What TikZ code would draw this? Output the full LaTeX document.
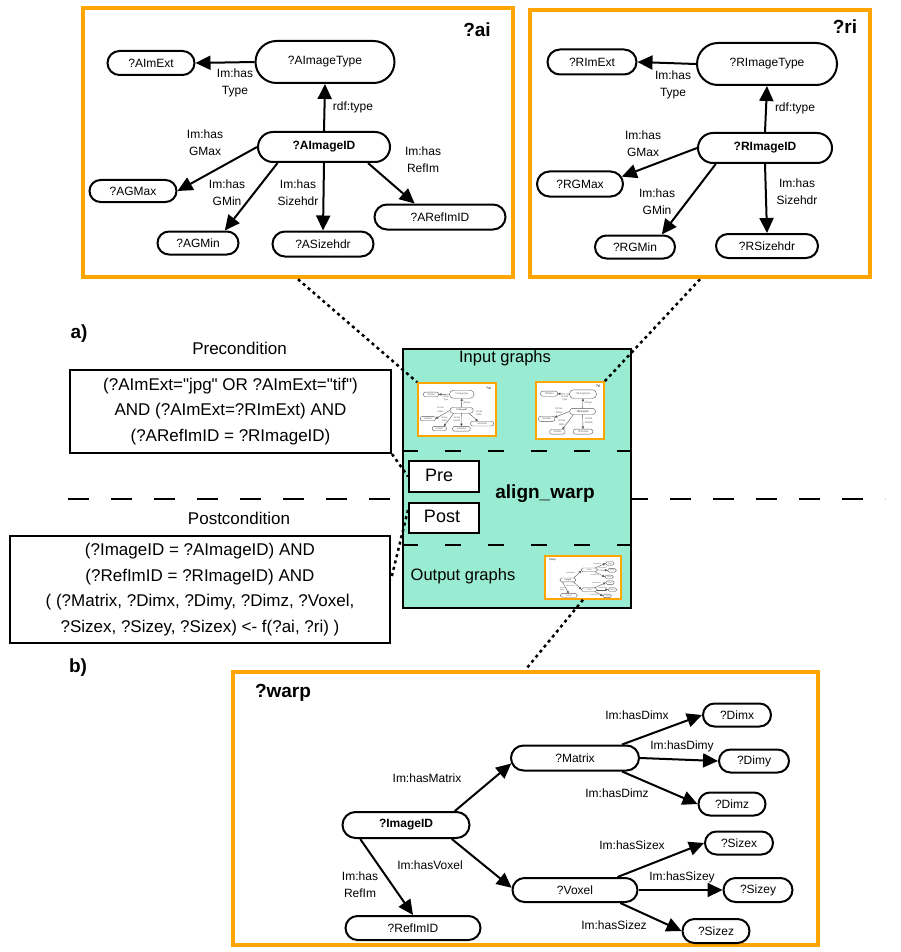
\documentclass[tikz,border=0pt]{standalone}
\usepackage{fontspec}
\setmainfont{Liberation Sans}
\usetikzlibrary{shapes.misc,arrows.meta}

\definecolor{frameorange}{RGB}{255,165,0}
\definecolor{opfill}{RGB}{153,235,209}

% stroke width and colour of the graph drawings
\newcommand{\gw}{2pt}
\newcommand{\gcol}{black}

\tikzset{
  gnode/.style={rounded rectangle, draw=\gcol, line width=\gw, inner sep=0pt,
    text=\gcol, font=\fontsize{12}{14}\selectfont},
  idnode/.style={gnode, font=\fontsize{12}{14}\selectfont\bfseries},
  glabel/.style={align=center, inner sep=0pt, text=\gcol,
    font=\fontsize{12}{17}\selectfont},
  garrow/.style={draw=black, line width=2pt,
    -{Triangle[length=15pt,width=14pt]}},
  gtitle/.style={inner sep=0pt, text=\gcol, font=\fontsize{19}{22}\selectfont\bfseries},
  bigframe/.style={draw=frameorange, line width=4.5pt, inner sep=0pt},
  thumbframe/.style={draw=frameorange, line width=1.6pt, fill=white, inner sep=0pt},
  condbox/.style={draw, line width=2pt, align=center, inner sep=0pt,
    font=\fontsize{17}{25.5}\selectfont},
  captxt/.style={inner sep=0pt, font=\fontsize{17}{20}\selectfont},
  boldtxt/.style={inner sep=0pt, font=\fontsize{19}{22}\selectfont\bfseries},
  smallbox/.style={draw, line width=2pt, fill=white, inner sep=0pt},
  dotlink/.style={line width=2.5pt, dash pattern=on 3pt off 3.5pt},
  sepline/.style={line width=2.5pt, dash pattern=on 21pt off 22pt},
  divline/.style={line width=2.5pt, dash pattern=on 16pt off 27pt},
}

% graph of the input image ?ai
\newcommand{\aigraph}{%
  \node[gnode, minimum width=139, minimum height=42] (it) at (325,62) {?AImageType};
  \node[gnode, minimum width=87, minimum height=24] (ext) at (151,63) {?AImExt};
  \node[idnode, minimum width=132, minimum height=30] (id) at (324,147) {?AImageID};
  \node[gnode, minimum width=87, minimum height=22] (gmax) at (133,191) {?AGMax};
  \node[gnode, minimum width=81, minimum height=23] (gmin) at (198,243) {?AGMin};
  \node[gnode, minimum width=101, minimum height=25] (sz) at (323,244) {?ASizehdr};
  \node[gnode, minimum width=131, minimum height=25] (ref) at (440,217) {?ARefImID};
  \node[gtitle] (ttl) at (477,30) {?ai};
  \draw[garrow] (it.west) -- (ext.east);
  \draw[garrow] (id.north) -- (it.south);
  \draw[garrow] (id.west) -- (gmax.east);
  \draw[garrow] (id.199) -- (gmin.25);
  \draw[garrow] (id.south) -- (sz.north);
  \draw[garrow] (id.340) -- (ref.152);
  \node[glabel] (l1) at (235,83) {Im:has\\Type};
  \node[glabel] (l2) at (353,107) {rdf:type};
  \node[glabel] (l3) at (205,143) {Im:has\\GMax};
  \node[glabel] (l4) at (227,193) {Im:has\\GMin};
  \node[glabel] (l5) at (298,193) {Im:has\\Sizehdr};
  \node[glabel] (l6) at (423,160) {Im:has\\RefIm};
}

% graph of the reference image ?ri
\newcommand{\rigraph}{%
  \node[gnode, minimum width=140, minimum height=42] (it) at (767,64) {?RImageType};
  \node[gnode, minimum width=89, minimum height=25] (ext) at (592,62) {?RImExt};
  \node[idnode, minimum width=134, minimum height=30] (id) at (765,148) {?RImageID};
  \node[gnode, minimum width=86, minimum height=25] (gmax) at (580,184) {?RGMax};
  \node[gnode, minimum width=80, minimum height=23] (gmin) at (635,247) {?RGMin};
  \node[gnode, minimum width=102, minimum height=24] (sz) at (767,246) {?RSizehdr};
  \node[gtitle] (ttl) at (845,27) {?ri};
  \draw[garrow] (it.west) -- (ext.east);
  \draw[garrow] (id.north) -- (it.south);
  \draw[garrow] (id.west) -- (gmax.10);
  \draw[garrow] (id.198) -- (gmin.25);
  \draw[garrow] (id.south) -- (sz.north);
  \node[glabel] (l1) at (673,85) {Im:has\\Type};
  \node[glabel] (l2) at (795,108) {rdf:type};
  \node[glabel] (l3) at (643,144) {Im:has\\GMax};
  \node[glabel] (l4) at (657,202) {Im:has\\GMin};
  \node[glabel] (l5) at (797,192) {Im:has\\Sizehdr};
}

% graph of the output ?warp
\newcommand{\warpgraph}{%
  \node[idnode, minimum width=127, minimum height=26] (wid) at (406,825) {?ImageID};
  \node[gnode, minimum width=135, minimum height=24] (wref) at (413,928) {?RefImID};
  \node[gnode, minimum width=128, minimum height=25] (mat) at (575,758) {?Matrix};
  \node[gnode, minimum width=125, minimum height=24] (vox) at (575,890) {?Voxel};
  \node[gnode, minimum width=68, minimum height=23] (dimx) at (737,715) {?Dimx};
  \node[gnode, minimum width=70, minimum height=23] (dimy) at (754,761) {?Dimy};
  \node[gnode, minimum width=67, minimum height=23] (dimz) at (732,804) {?Dimz};
  \node[gnode, minimum width=68, minimum height=23] (sizex) at (739,843) {?Sizex};
  \node[gnode, minimum width=69, minimum height=24] (sizey) at (758,890) {?Sizey};
  \node[gnode, minimum width=67, minimum height=24] (sizez) at (716,931) {?Sizez};
  \node[gtitle] (ttl) at (283,693) {?warp};
  \draw[garrow] (wid.16) -- (mat.185);
  \draw[garrow] (wid.343) -- (vox.178);
  \draw[garrow] (wid.197) -- (wref.north);
  \draw[garrow] (mat.16) -- (dimx.west);
  \draw[garrow] (mat.east) -- (dimy.west);
  \draw[garrow] (mat.344) -- (dimz.west);
  \draw[garrow] (vox.17) -- (sizex.west);
  \draw[garrow] (vox.east) -- (sizey.west);
  \draw[garrow] (vox.344) -- (sizez.west);
  \node[glabel] (lm) at (427,778) {Im:hasMatrix};
  \node[glabel] (lv) at (430,865) {Im:hasVoxel};
  \node[glabel] (lr) at (360,885) {Im:has\\RefIm};
  \node[glabel] (ldx) at (637,715) {Im:hasDimx};
  \node[glabel] (ldy) at (682,746) {Im:hasDimy};
  \node[glabel] (ldz) at (617,793) {Im:hasDimz};
  \node[glabel] (lsx) at (632,845) {Im:hasSizex};
  \node[glabel] (lsy) at (682,877) {Im:hasSizey};
  \node[glabel] (lsz) at (614,925) {Im:hasSizez};
}

% thin, grey settings for the miniature copies
\newcommand{\thumbsettings}{%
  \renewcommand{\gw}{0.4pt}%
  \renewcommand{\gcol}{black!65}%
  \tikzset{garrow/.style={draw=black!65, line width=0.4pt,
    -{Triangle[length=2.6pt,width=2.4pt]}}}%
}

\newcommand{\qq}{\textquotedbl}

\begin{document}
\begin{tikzpicture}[x=1pt, y=-1pt]
  \useasboundingbox (0,0) rectangle (900,952);

  % separator between precondition and postcondition
  \coordinate (sepl) at (68,499);
  \coordinate (sepr) at (885,499);
  \draw[sepline] (sepl) -- (sepr);

  % the operation box
  \node[draw, fill=opfill, line width=2pt, inner sep=0pt,
        minimum width=228, minimum height=259] (op) at (517,478.5) {};
  \node[captxt, font=\fontsize{16.5}{20}\selectfont] (intxt) at (505,358) {Input graphs};
  \node[captxt, font=\fontsize{16.5}{20}\selectfont] (outtxt) at (463,576) {Output graphs};
  \node[boldtxt] (opname) at (545,494) {align\_warp};
  \coordinate (d1l) at ([yshift=-103pt]op.north west);
  \coordinate (d1r) at ([yshift=-103pt]op.north east);
  \coordinate (d2l) at ([yshift=64pt]op.south west);
  \coordinate (d2r) at ([yshift=64pt]op.south east);
  \draw[divline] (d1l) -- (d1r);
  \draw[divline] (d2l) -- (d2r);

  \node[smallbox, minimum width=70, minimum height=31] (prebox) at (444,476.5) {};
  \node[captxt, font=\fontsize{18}{20}\selectfont] (pretxt) at (439,475) {Pre};
  \node[smallbox, minimum width=70, minimum height=30] (postbox) at (444,518) {};
  \node[captxt, font=\fontsize{18}{20}\selectfont] (posttxt) at (442,516) {Post};

  % conditions
  \node[boldtxt] (la) at (79,334) {a)};
  \node[boldtxt] (lb) at (78,668) {b)};
  \node[captxt] (prehead) at (239.5,348) {Precondition};
  \node[condbox, minimum width=321, minimum height=83] (precond) at (230.5,411.5)
    {(?AImExt=\qq jpg\qq{} OR ?AImExt=\qq tif\qq)\\AND (?AImExt=?RImExt) AND\\(?ARefImID = ?RImageID)};
  \node[captxt] (posthead) at (239,518) {Postcondition};
  \node[condbox, minimum width=380, minimum height=107] (postcond) at (200,589.5)
    {(?ImageID = ?AImageID) AND\\(?RefImID = ?RImageID) AND\\( (?Matrix, ?Dimx, ?Dimy, ?Dimz, ?Voxel,\\?Sizex, ?Sizey, ?Sizex) <- f(?ai, ?ri) )};

  % miniature graphs inside the operation box
  \node[thumbframe, minimum width=78, minimum height=53] (aithumb) at (457,409.5) {};
  \node[thumbframe, minimum width=68, minimum height=57] (rithumb) at (570,410.5) {};
  \node[thumbframe, minimum width=76, minimum height=43] (outthumb) at (583,577.5) {};
  \begin{scope}[shift={(419,384)}, xscale=0.1767, yscale=0.1896, shift={(-83,-8)},
                transform shape, name prefix=ta-]
    \thumbsettings\aigraph
  \end{scope}
  \begin{scope}[shift={(537,383)}, xscale=0.194, yscale=0.206, shift={(-530,-10)},
                transform shape, name prefix=tr-]
    \thumbsettings\rigraph
  \end{scope}
  \begin{scope}[shift={(546,557)}, xscale=0.1265, yscale=0.150, shift={(-233,-672)},
                transform shape, name prefix=tw-]
    \thumbsettings\warpgraph
  \end{scope}

  % full-size graphs
  \node[bigframe, minimum width=430, minimum height=269] (aibox) at (298,142.5) {};
  \node[bigframe, minimum width=340, minimum height=267] (ribox) at (700,143.5) {};
  \node[bigframe, minimum width=585, minimum height=273] (warpbox) at (525.5,808.5) {};
  \aigraph
  \begin{scope}[name prefix=r-]
    \rigraph
  \end{scope}
  \warpgraph

  % dotted links between the parts
  \draw[dotlink] (aibox.south) -- (aithumb.north west);
  \draw[dotlink] (ribox.south) -- (rithumb.north east);
  \draw[dotlink] (precond.south east) -- (prebox.west);
  \draw[dotlink] ([yshift=8pt]postbox.west) -- ([yshift=10pt]postcond.east);
  \draw[dotlink] (outthumb.south) -- (warpbox.north);
\end{tikzpicture}
\end{document}
